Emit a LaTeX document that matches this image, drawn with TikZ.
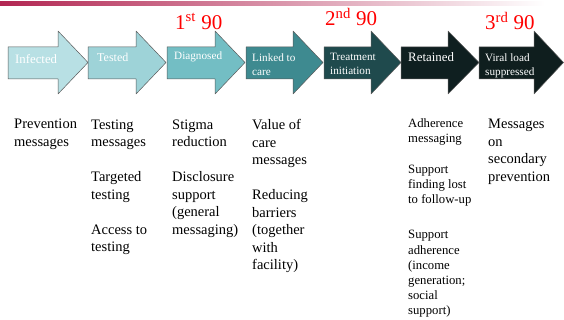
\documentclass[tikz,border=0pt]{standalone}
\usepackage{fontspec}
\setmainfont{Liberation Serif}
\definecolor{barred}{RGB}{178,38,82}
\definecolor{stepA}{HTML}{B8E0E4}
\definecolor{stepB}{HTML}{9ED3D8}
\definecolor{stepC}{HTML}{73BEC4}
\definecolor{stepD}{HTML}{3E8A90}
\definecolor{stepE}{HTML}{1F4A4D}
\definecolor{stepF}{HTML}{0F1F20}
\definecolor{stepG}{HTML}{0F1E1E}
\tikzset{
	stage/.style={draw=black!65, line width=0.5pt},
	stagetext/.style={text=white, anchor=base west, inner sep=0pt, align=left, font=\fontsize{11.2}{14}\selectfont},
	ninety/.style={text=red, anchor=base west, inner sep=0pt, font=\fontsize{21}{24}\selectfont},
	action/.style={anchor=north west, inner sep=0pt, align=left, font=\fontsize{14.5}{17.5}\selectfont}
}
\begin{document}
\begin{tikzpicture}[x=1pt, y=-1pt, line join=round, line cap=round]
	\useasboundingbox (0,0) rectangle (564,320);
	\shade[left color=barred, right color=white] (0,1.5) rectangle (545,6);
	\foreach \a/\b/\c/\col in {8/58/88/stepA, 88/136/166/stepB, 167/215/245/stepC, 246/293/323/stepD, 324/371/401/stepE, 401/448/479/stepF, 479/534/563.5/stepG}
		\filldraw[stage, fill=\col] (\a,47)--(\b,47)--(\b,31)--(\c,62.5)--(\b,94)--(\b,79)--(\a,79)--cycle;
	\node[stagetext, font=\fontsize{12.8}{14}\selectfont] (infected) at (15,64) {Infected};
	\node[stagetext, font=\fontsize{12}{14}\selectfont] (tested) at (97,62) {Tested};
	\node[stagetext] (diagnosed) at (174,60) {Diagnosed};
	\node[stagetext, anchor=north west] (linked) at (252,53.4) {Linked to\\care};
	\node[stagetext, anchor=north west] (treatment) at (330,53.4) {Treatment\\initiation};
	\node[stagetext, font=\fontsize{12.9}{14}\selectfont] (retained) at (408,62) {Retained};
	\node[stagetext, anchor=north west] (viral) at (485,53.4) {Viral load\\suppressed};
	\node[ninety] (first) at (175,29.5) {1\textsuperscript{st} 90};
	\node[ninety] (second) at (325,26) {2\textsuperscript{nd} 90};
	\node[ninety] (third) at (485,30) {3\textsuperscript{rd} 90};
	\node[action] (prevention) at (14,119.2) {Prevention\\messages};
	\node[action] (testing) at (91,119.2) {Testing\\messages\\[17.5pt]Targeted\\testing\\[17.5pt]Access to\\testing};
	\node[action] (stigma) at (172,119.7) {Stigma\\reduction\\[17.5pt]Disclosure\\support\\(general\\messaging)};
	\node[action] (value) at (252,119.2) {Value of\\care\\messages\\[17.5pt]Reducing\\barriers\\(together\\with\\facility)};
	\node[action, font=\fontsize{12.7}{15.2}\selectfont] (adherence) at (408,118.4) {Adherence\\messaging\\[15.5pt]Support\\finding lost\\to follow-up\\[20pt]Support\\adherence\\(income\\generation;\\social\\support)};
	\node[action] (messages) at (488,119.2) {Messages\\on\\secondary\\prevention};
\end{tikzpicture}
\end{document}
